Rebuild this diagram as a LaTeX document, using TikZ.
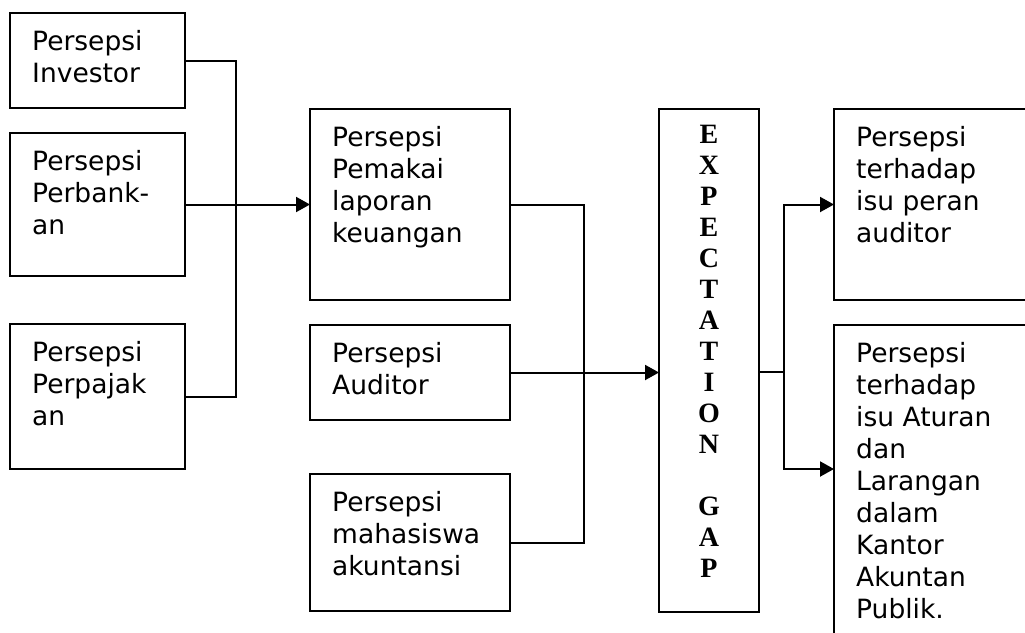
\documentclass[tikz,border=0pt]{standalone}
\usepackage{fontspec}
\newfontfamily\boxfont{DejaVu Sans}
\newfontfamily\gapfont{Liberation Serif}
\usetikzlibrary{arrows.meta,calc}

\tikzset{
  kotak/.style={draw, line width=2.4pt, anchor=north west, inner sep=0pt, outer sep=0pt},
  isi/.style={anchor=north west, inner sep=0pt, align=left, font=\boxfont\fontsize{26.5}{32}\selectfont},
  garis/.style={line width=2pt},
  panah/.style={garis, -{Triangle[length=14pt,width=15pt]}}
}

\begin{document}
\begin{tikzpicture}[x=1pt, y=-1pt]
    \useasboundingbox (0,0) rectangle (1025,632);
    \clip (0,0) rectangle (1025,632);

    % kolom kiri
    \node[kotak, minimum width=175pt, minimum height=95pt]  (inv) at (10,13)  {};
    \node[kotak, minimum width=175pt, minimum height=143pt] (bank) at (10,133) {};
    \node[kotak, minimum width=175pt, minimum height=145pt] (paj) at (10,324) {};
    \node[isi] (inv-t)  at ([shift={(22,17.5)}]inv.north west)  {Persepsi\\Investor};
    \node[isi] (bank-t) at ([shift={(22,17.5)}]bank.north west) {Persepsi\\Perbank-\\an};
    \node[isi] (paj-t)  at ([shift={(22,17.5)}]paj.north west)  {Persepsi\\Perpajak\\an};

    % kolom tengah
    \node[kotak, minimum width=200pt, minimum height=191pt] (pem) at (310,109) {};
    \node[kotak, minimum width=200pt, minimum height=95pt]  (aud) at (310,325) {};
    \node[kotak, minimum width=200pt, minimum height=137pt] (mhs) at (310,474) {};
    \node[isi] (pem-t) at ([shift={(22,17.5)}]pem.north west) {Persepsi\\Pemakai\\laporan\\keuangan};
    \node[isi] (aud-t) at ([shift={(22,17.5)}]aud.north west) {Persepsi\\Auditor};
    \node[isi] (mhs-t) at ([shift={(22,17.5)}]mhs.north west) {Persepsi\\mahasiswa\\akuntansi};

    % expectation gap
    \node[kotak, minimum width=100pt, minimum height=503pt] (gap) at (659,109) {};
    \node[anchor=north, inner sep=0pt, align=center,
          font=\gapfont\bfseries\fontsize{28}{31}\selectfont] (gap-t) at (709,125)
          {E\\X\\P\\E\\C\\T\\A\\T\\I\\O\\N\\{}\\G\\A\\P};

    % kolom kanan
    \node[kotak, minimum width=260pt, minimum height=191pt] (peran) at (834,109) {};
    \node[kotak, minimum width=260pt, minimum height=400pt] (atur) at (834,325) {};
    \node[isi] (peran-t) at ([shift={(22,17.5)}]peran.north west) {Persepsi\\terhadap\\isu peran\\auditor};
    \node[isi] (atur-t)  at ([shift={(22,17.5)}]atur.north west)  {Persepsi\\terhadap\\isu Aturan\\dan\\Larangan\\dalam\\Kantor\\Akuntan\\Publik.};

    % garis penghubung
    \coordinate (jl) at (236,205);
    \coordinate (jm) at (584,372);
    \coordinate (jr) at (784,372);
    \draw[garis] (inv.east) -| (jl) |- (paj.east);
    \draw[panah] (bank.east) -- (pem.west);
    \draw[garis] (pem.east) -| (jm) |- (mhs.east);
    \draw[panah] (aud.east) -- (aud.east -| gap.west);
    \draw[garis] (jr -| gap.east) -- (jr);
    \draw[panah] (jr) |- (peran.west);
    \draw[panah] (jr) |- ([yshift=-144pt]atur.north west);
\end{tikzpicture}
\end{document}
